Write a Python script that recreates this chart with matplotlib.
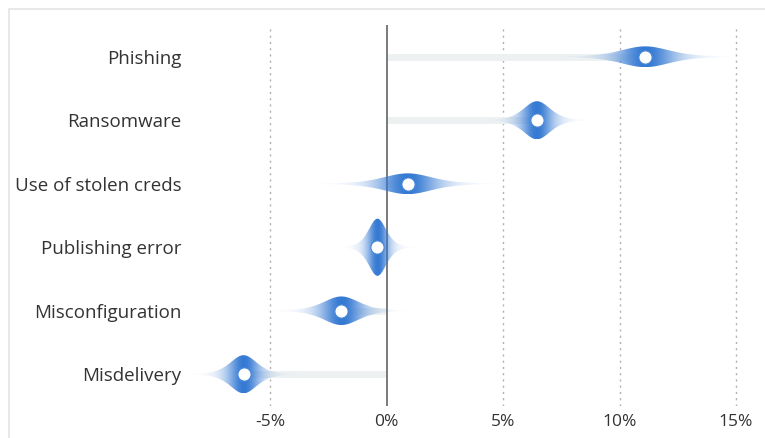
import numpy as np
import matplotlib
matplotlib.use('Agg')
import matplotlib.pyplot as plt
from matplotlib.patches import Polygon, Rectangle
import matplotlib.colors as mcolors

# ---- data ----
categories = ["Phishing", "Ransomware", "Use of stolen creds",
              "Publishing error", "Misconfiguration", "Misdelivery"]
estimates = [11.1, 6.45, 0.9, -0.4, -1.95, -6.15]   # point estimates (%)
spreads = [1.1, 0.6, 1.1, 0.4, 0.8, 0.6]            # uncertainty scale (%)
tick_values = [-5, 0, 5, 10, 15]
tick_labels = ["-5%", "0%", "5%", "10%", "15%"]

plt.rcParams['font.family'] = ['Open Sans', 'DejaVu Sans']

W, H = 765, 438
fig = plt.figure(figsize=(W / 100, H / 100), dpi=100)
fig.patch.set_facecolor('white')

# light frame around the figure (left/top visible)
fig.add_artist(Rectangle((9 / W, -0.1), 1.2, 1 - 9 / H + 0.1,
                         transform=fig.transFigure, fill=False,
                         edgecolor='#e4e4e4', linewidth=1.2))

ax = fig.add_axes([190 / W, 1 - 406 / H, 560 / W, 381 / H])
xlim = (-8.45, 15.6)
ax.set_xlim(*xlim)
ax.set_ylim(len(categories) - 0.5, -0.5)

blue = np.array(mcolors.to_rgb('#3479d3'))
df = 5.0
max_half = 0.45  # half-height (row units) for the narrowest distribution
min_spread = min(spreads)

xs = np.linspace(xlim[0], xlim[1], 1500)
for i, (m, s) in enumerate(zip(estimates, spreads)):
    # bar from zero to estimate
    ax.hlines(i, 0, m, color='#edf1f2', linewidth=5, zorder=1)
    z = (xs - m) / s
    dens = (1 + z ** 2 / df) ** (-(df + 1) / 2)   # normalised peak = 1
    half = dens * max_half * (min_spread / s)
    mask = dens > 0.004
    xv = xs[mask]
    hv = half[mask]
    poly_xy = np.concatenate([np.column_stack([xv, i - hv]),
                              np.column_stack([xv[::-1], i + hv[::-1]])])
    poly = Polygon(poly_xy, closed=True, facecolor='none', edgecolor='none')
    ax.add_patch(poly)
    # gradient image (alpha follows density)
    alpha = dens[mask] ** 1.1
    img = np.zeros((2, len(xv), 4))
    img[..., :3] = blue
    img[..., 3] = alpha[None, :]
    hmax = hv.max()
    im = ax.imshow(img, extent=[xv[0], xv[-1], i + hmax, i - hmax],
                   aspect='auto', interpolation='bilinear', zorder=2)
    im.set_clip_path(poly)
    # point estimate
    ax.plot(m, i, 'o', markersize=9.5, markerfacecolor='white',
            markeredgecolor='#4a88d8', markeredgewidth=0.8, zorder=4)

# grid lines
for v in tick_values:
    if v == 0:
        ax.axvline(0, color='#7a7a7a', linewidth=1.4, zorder=1.5)
    else:
        ax.axvline(v, color='#b0b0b0', linewidth=1.0,
                   linestyle=(0, (1.5, 3)), zorder=0.5)

ax.set_xticks(tick_values)
ax.set_xticklabels(tick_labels)
ax.set_yticks(range(len(categories)))
ax.set_yticklabels(categories)
ax.tick_params(axis='both', length=0, labelcolor='#333333')
ax.tick_params(axis='y', pad=6, labelsize=13.5)
ax.tick_params(axis='x', pad=6, labelsize=12.5)
for sp in ax.spines.values():
    sp.set_visible(False)
ax.set_facecolor('none')

fig.savefig('out.png', dpi=100, facecolor='white')
